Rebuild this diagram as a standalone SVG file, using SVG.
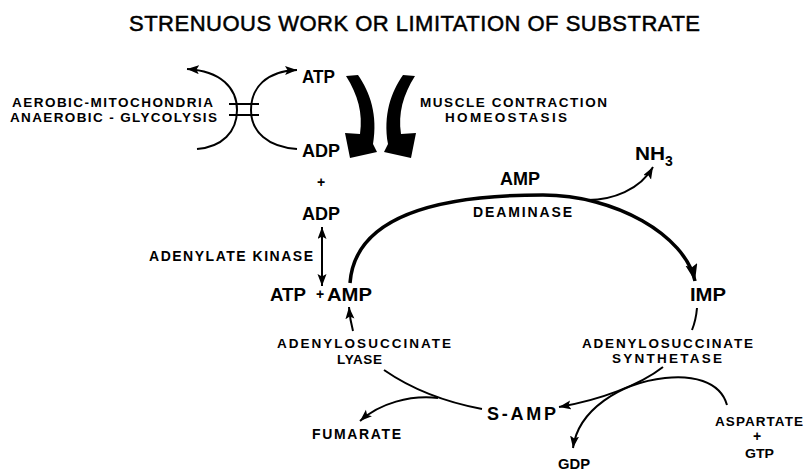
<svg xmlns="http://www.w3.org/2000/svg" width="808" height="472" viewBox="0 0 808 472">
<style>
text{font-family:"Liberation Sans",Arial,sans-serif;fill:#000;}
.b{font-weight:bold;font-size:14px;}
.s{font-weight:bold;font-size:13.5px;}
.big{font-weight:bold;font-size:18px;}
.ln{fill:none;stroke:#000;stroke-width:2;}
.thick{fill:none;stroke:#000;stroke-width:3.5;}
.blk{fill:#000;stroke:none;}
</style>
<defs>
<marker id="ah" markerUnits="userSpaceOnUse" markerWidth="13" markerHeight="10" refX="12" refY="4.5" orient="auto-start-reverse">
<path d="M0,0 L12,4.5 L0,9 L2.5,4.5 Z" fill="#000"/>
</marker>
<marker id="ahb" markerUnits="userSpaceOnUse" markerWidth="18" markerHeight="13" refX="17" refY="6" orient="auto">
<path d="M0,0 L17,6 L0,12 L3,6 Z" fill="#000"/>
</marker>
</defs>
<rect width="808" height="472" fill="#fff"/>

<g id="title"><text x="129" y="31" font-size="22" stroke="#000" stroke-width="0.5" textLength="571" lengthAdjust="spacing">STRENUOUS WORK OR LIMITATION OF SUBSTRATE</text></g>

<g id="connectors">
<path class="ln" d="M229,104 H259 M229,115 H259" stroke-width="2.5"/>
<path class="ln" d="M197,149 C222,147 237,132 237,110 C237,88 221,71 187,69" marker-end="url(#ah)"/>
<path class="ln" d="M297,149 C268,147 251,132 251,110 C251,88 266,71 297,70" marker-end="url(#ah)"/>
<path class="blk" d="M346,76 L358,75 C370,92 378,115 373,144 L377,152 L350,158 L345,133 L360,134 C363,113 358,95 346,76 Z"/>
<path class="blk" d="M415,76 L403,75 C391,92 383,115 388,144 L384,152 L411,158 L416,133 L401,134 C398,113 403,95 415,76 Z"/>
<path class="ln" d="M322,227 V286" marker-start="url(#ah)" marker-end="url(#ah)"/>
<path class="thick" d="M350,283 C355,215 440,195 543,195 C615,195 685,235 695,281" marker-end="url(#ahb)"/>
<path class="ln" stroke-width="3" d="M588,200 C612,200 640,190 653,167" marker-end="url(#ah)"/>
<path class="ln" d="M353,331 Q350,320 349,307" marker-end="url(#ah)"/>
<path class="ln" d="M697,308 Q696,320 692,330"/>
<path class="ln" d="M384,370 C410,388 445,402 482,409"/>
<path class="ln" d="M438,398 C410,395 380,403 360,421" marker-end="url(#ah)"/>
<path class="ln" d="M663,367 C640,385 600,400 559,407" marker-end="url(#ah)"/>
<path class="ln" d="M727,405 C720,380 690,375 665,378 C620,383 578,410 573,448" marker-end="url(#ah)"/>
</g>

<g id="aerobic"><text class="s" x="12" y="107" textLength="201" lengthAdjust="spacing">AEROBIC-MITOCHONDRIA</text></g>
<g id="anaerobic"><text class="s" x="10" y="122" textLength="207" lengthAdjust="spacing">ANAEROBIC - GLYCOLYSIS</text></g>
<g id="atp-top"><text class="big" x="302" y="83" font-size="17" textLength="33" lengthAdjust="spacingAndGlyphs">ATP</text></g>
<g id="adp-top"><text class="big" x="302" y="157" font-size="17" textLength="38" lengthAdjust="spacingAndGlyphs">ADP</text></g>
<g id="plus1"><text class="b" x="321" y="187" font-size="12" text-anchor="middle">+</text></g>
<g id="adp-2"><text class="big" x="302" y="220" font-size="17" textLength="38" lengthAdjust="spacingAndGlyphs">ADP</text></g>
<g id="muscle"><text class="s" x="420" y="107" textLength="187" lengthAdjust="spacing">MUSCLE CONTRACTION</text></g>
<g id="homeostasis"><text class="s" x="445" y="122" textLength="122" lengthAdjust="spacing">HOMEOSTASIS</text></g>
<g id="amp-top"><text class="big" x="500" y="185" font-size="17" textLength="40" lengthAdjust="spacing">AMP</text></g>
<g id="deaminase"><text class="b" x="473" y="217" textLength="99" lengthAdjust="spacing">DEAMINASE</text></g>
<g id="nh3"><text class="big" x="635" y="160" textLength="30" lengthAdjust="spacingAndGlyphs">NH</text><text class="b" x="665" y="166" font-size="13">3</text></g>
<g id="adenylate-kinase"><text class="b" x="149" y="261" textLength="164" lengthAdjust="spacing">ADENYLATE KINASE</text></g>
<g id="atp-bottom"><text class="big" x="270" y="301" textLength="36" lengthAdjust="spacingAndGlyphs">ATP</text></g>
<g id="amp"><text class="b" x="320" y="299" font-size="13" text-anchor="middle">+</text><text class="big" x="327" y="301" textLength="45" lengthAdjust="spacingAndGlyphs">AMP</text></g>
<g id="imp"><text class="big" x="690" y="301" textLength="36" lengthAdjust="spacingAndGlyphs">IMP</text></g>
<g id="lyase"><text class="s" x="277" y="348" textLength="174" lengthAdjust="spacing">ADENYLOSUCCINATE</text><text class="s" x="337" y="364" textLength="45" lengthAdjust="spacing">LYASE</text></g>
<g id="synthetase"><text class="s" x="582" y="348" textLength="171" lengthAdjust="spacing">ADENYLOSUCCINATE</text><text class="s" x="612" y="363" textLength="110" lengthAdjust="spacing">SYNTHETASE</text></g>
<g id="s-amp"><text class="big" x="487" y="420" font-size="19" textLength="69" lengthAdjust="spacing">S-AMP</text></g>
<g id="fumarate"><text class="b" x="312" y="439" textLength="89" lengthAdjust="spacing">FUMARATE</text></g>
<g id="gdp"><text class="b" x="558" y="469" font-size="13.5" textLength="32" lengthAdjust="spacingAndGlyphs">GDP</text></g>
<g id="aspartate"><text class="s" x="715" y="426" textLength="88" lengthAdjust="spacing">ASPARTATE</text><text class="b" x="757" y="441" font-size="12" text-anchor="middle">+</text><text class="s" x="745" y="458" textLength="29" lengthAdjust="spacingAndGlyphs">GTP</text></g>
</svg>
